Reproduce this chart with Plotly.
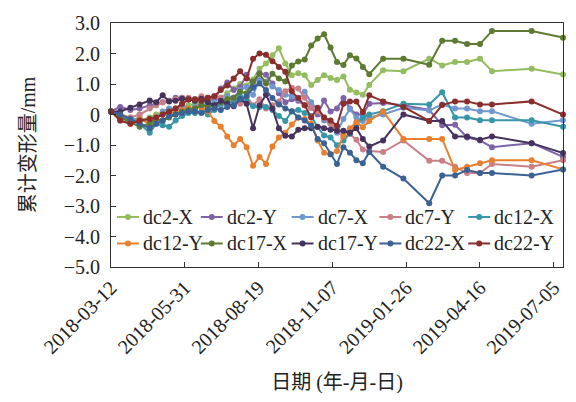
import plotly.graph_objects as go

# Measurement dates (weekly survey, sparser after the new year)
dates = [
    "2018-03-12", "2018-03-22", "2018-04-02", "2018-04-12", "2018-04-23",
    "2018-04-30", "2018-05-07", "2018-05-14", "2018-05-21", "2018-05-28",
    "2018-06-04", "2018-06-11", "2018-06-18", "2018-06-25", "2018-07-02",
    "2018-07-09", "2018-07-16", "2018-07-23", "2018-07-30", "2018-08-06",
    "2018-08-13", "2018-08-20", "2018-08-27", "2018-09-03", "2018-09-10",
    "2018-09-17", "2018-09-24", "2018-10-01", "2018-10-08", "2018-10-15",
    "2018-10-22", "2018-10-29", "2018-11-05", "2018-11-12", "2018-11-19",
    "2018-11-26", "2018-12-03", "2018-12-10", "2018-12-17", "2019-01-01",
    "2019-01-23", "2019-02-20", "2019-03-06", "2019-03-20", "2019-04-02",
    "2019-04-16", "2019-04-29", "2019-06-11", "2019-07-15",
]

# Cumulative deformation (mm) per monitoring point and direction
dc2_x = [0.1, -0.05, -0.1, -0.2, -0.1, 0.0, 0.05, 0.1, 0.2, 0.25,
         0.3, 0.35, 0.4, 0.45, 0.5, 0.55, 0.7, 0.85, 1.0, 0.95,
         1.15, 1.5, 1.67, 1.94, 2.17, 1.67, 1.29, 1.35, 1.29, 0.97,
         1.13, 1.29, 1.2, 1.13, 1.25, 0.81, 0.72, 0.65, 0.97, 1.45,
         1.42, 1.83, 1.61, 1.72, 1.72, 1.83, 1.42, 1.5, 1.31]
dc2_y = [0.1, 0.25, 0.15, 0.2, 0.3, 0.35, 0.4, 0.45, 0.55, 0.55,
         0.5, 0.45, 0.5, 0.55, 0.5, 0.85, 1.05, 0.8, 0.9, 1.3,
         0.95, 1.35, 1.3, 1.02, 0.7, 0.4, 0.5, 0.45, 0.3, 0.22,
         0.0, 0.46, 0.1, 0.2, 0.54, 0.2, 0.0, 0.0, 0.35, 0.38,
         0.3, 0.15, -0.35, -0.34, -0.75, -0.85, -1.07, -0.94, -1.39]
dc7_x = [0.1, 0.0, -0.2, -0.1, -0.3, -0.1, 0.1, 0.2, 0.15, 0.3,
         0.2, 0.25, 0.35, 0.3, 0.4, 0.3, 0.6, 0.55, 0.8, 0.9,
         0.65, 1.13, 1.08, 0.92, 0.8, 0.65, 0.6, 0.5, 0.75, 0.4,
         0.15, -0.2, -0.3, -0.6, -0.15, 0.17, -0.1, -0.21, -0.1, 0.0,
         0.22, 0.13, 0.33, 0.2, 0.2, 0.11, 0.11, -0.3, -0.19]
dc7_y = [0.1, 0.0, -0.1, 0.0, 0.2, 0.3, 0.4, 0.45, 0.5, 0.55,
         0.55, 0.5, 0.6, 0.5, 0.6, 0.55, 0.4, 0.5, 0.35, 0.6,
         0.3, 0.5, 0.2, 0.3, 0.43, 0.76, 0.88, 0.85, 0.55, 0.22,
         0.1, -0.1, -0.3, -0.5, -0.75, -0.64, -0.83, -1.15, -1.2, -1.23,
         -0.85, -1.52, -1.52, -1.71, -1.92, -1.92, -1.62, -1.71, -1.5]
dc12_x = [0.1, -0.1, -0.2, -0.3, -0.6, -0.3, -0.35, -0.4, -0.2, -0.05,
          0.05, 0.05, 0.1, 0.0, 0.15, 0.38, 0.35, 0.45, 0.59, 0.43,
          0.27, 0.24, 0.25, 0.15, -0.05, -0.21, 0.1, 0.15, 0.05, -0.05,
          -0.42, -0.69, -0.75, -1.01, -0.85, -0.62, -0.32, -0.1, 0.0, 0.11,
          0.35, 0.33, 0.73, -0.1, -0.1, -0.19, -0.19, -0.19, -0.4]
dc12_y = [0.1, -0.2, -0.3, -0.15, -0.3, -0.1, 0.0, 0.05, 0.1, 0.15,
          0.2, 0.2, 0.25, 0.11, -0.21, -0.4, -0.72, -1.01, -0.8, -1.07,
          -1.68, -1.39, -1.62, -1.05, -0.75, -0.6, -0.33, -0.1, -0.15, -0.3,
          -0.85, -1.25, -1.3, -1.2, -0.7, -0.45, -0.25, -0.42, -0.21, 0.1,
          -0.8, -0.8, -0.8, -1.82, -1.71, -1.6, -1.5, -1.5, -1.8]
dc17_x = [0.1, -0.1, -0.25, -0.4, -0.3, -0.15, -0.2, -0.1, 0.0, 0.1,
          0.15, 0.2, 0.3, 0.25, 0.3, 0.4, 0.5, 0.55, 0.75, 0.7,
          1.08, 1.34, 1.02, 1.34, 1.18, 1.08, 1.61, 1.74, 1.8, 2.26,
          2.49, 2.63, 2.2, 1.72, 1.62, 1.94, 1.84, 1.56, 1.32, 1.83,
          1.83, 1.63, 2.42, 2.42, 2.31, 2.31, 2.74, 2.74, 2.52]
dc17_y = [0.1, 0.1, 0.22, 0.33, 0.46, 0.4, 0.63, 0.43, 0.45, 0.52,
          0.5, 0.45, 0.52, 0.4, 0.3, 0.45, 0.35, 0.27, 0.5, 0.35,
          -0.45, 0.3, 0.65, 0.2, -0.45, -0.7, -0.72, -0.5, -0.45, -0.45,
          -0.4, -0.45, -0.5, -0.53, -0.53, -0.6, -0.45, -0.8, -1.05, -0.85,
          0.0, -0.21, -0.21, -0.72, -0.72, -0.83, -0.72, -0.94, -1.26]
dc22_x = [0.1, 0.0, -0.15, -0.3, -0.45, -0.3, -0.2, -0.05, 0.0, 0.05,
          0.1, 0.1, 0.05, 0.15, 0.2, 0.15, 0.25, 0.3, 0.5, 0.6,
          0.88, 1.02, 0.8, 0.54, 0.33, 0.2, 0.11, -0.1, -0.2, -0.37,
          -0.8, -0.94, -1.3, -1.62, -1.07, -1.25, -1.5, -1.6, -1.23, -1.71,
          -2.1, -2.91, -2.0, -2.0, -1.82, -1.92, -1.92, -2.0, -1.8]
dc22_y = [0.1, -0.2, -0.3, -0.2, -0.15, -0.1, 0.0, 0.1, 0.2, 0.35,
          0.49, 0.5, 0.45, 0.55, 0.6, 0.8, 0.95, 1.18, 1.42, 1.18,
          1.83, 2.0, 1.96, 1.75, 1.56, 1.4, 0.76, 0.54, 0.3, -0.1,
          0.22, -0.1, -0.2, -0.37, 0.35, 0.43, 0.43, 0.08, 0.63, 0.43,
          0.25, -0.21, 0.31, 0.43, 0.43, 0.33, 0.33, 0.43, 0.0]

series_names = ["dc2-X", "dc2-Y", "dc7-X", "dc7-Y", "dc12-X",
                "dc12-Y", "dc17-X", "dc17-Y", "dc22-X", "dc22-Y"]
series_values = [dc2_x, dc2_y, dc7_x, dc7_y, dc12_x,
                 dc12_y, dc17_x, dc17_y, dc22_x, dc22_y]
series_colors = ["#93BD5E", "#7E63A8", "#7197CF", "#CA7F87", "#3796A8",
                 "#E8802F", "#5C7A31", "#45335E", "#3C6293", "#8A2D2D"]

x_tick_dates = ["2018-03-12", "2018-05-31", "2018-08-19", "2018-11-07",
                "2019-01-26", "2019-04-16", "2019-07-05"]
y_tick_vals = [3, 2, 1, 0, -1, -2, -3, -4, -5]
y_tick_text = ["3.0", "2.0", "1.0", "0", "\u22121.0", "\u22122.0",
               "\u22123.0", "\u22124.0", "\u22125.0"]

FONT = "Liberation Serif, Noto Sans CJK SC, serif"
TEXT = "#222"

# Figure geometry (pixels)
W, H = 576, 402
M_L, M_R, M_T, M_B = 111, 12, 20, 133
PLOT_W = W - M_L - M_R
PLOT_H = H - M_T - M_B

fig = go.Figure()
for name, vals, color in zip(series_names, series_values, series_colors):
    fig.add_trace(go.Scatter(
        x=dates, y=vals, name=name, mode="lines+markers",
        line=dict(color=color, width=2),
        marker=dict(color=color, size=6),
        cliponaxis=False, showlegend=False,
    ))

# In-plot legend: 2 rows x 5 columns, short line + dot, label right after
LEG_COL_PX = [117, 201, 292, 380, 469]
LEG_ROW_PX = [218, 245]
LEG_LINE_LEN = 22
shapes = []
annotations = []
for i, (name, color) in enumerate(zip(series_names, series_colors)):
    row, col = divmod(i, 5)
    x0 = (LEG_COL_PX[col] - M_L) / PLOT_W
    x1 = (LEG_COL_PX[col] + LEG_LINE_LEN - M_L) / PLOT_W
    xm = (x0 + x1) / 2
    yy = (H - M_B - LEG_ROW_PX[row]) / PLOT_H
    shapes.append(dict(type="line", xref="paper", yref="paper",
                       x0=x0, x1=x1, y0=yy, y1=yy,
                       line=dict(color=color, width=2)))
    shapes.append(dict(type="circle", xref="paper", yref="paper",
                       xsizemode="pixel", ysizemode="pixel",
                       xanchor=xm, yanchor=yy, x0=-3, x1=3, y0=-3, y1=3,
                       fillcolor=color, line=dict(color=color, width=0)))
    annotations.append(dict(xref="paper", yref="paper",
                            x=x1 + 2 / PLOT_W, y=yy, xanchor="left",
                            yanchor="middle", showarrow=False, text=name,
                            font=dict(family=FONT, size=20, color=TEXT)))

fig.update_layout(
    width=W, height=H,
    margin=dict(l=M_L, r=M_R, t=M_T, b=M_B),
    paper_bgcolor="white", plot_bgcolor="white",
    font=dict(family=FONT, size=20, color=TEXT),
    showlegend=False,
    shapes=shapes,
    annotations=annotations,
)

fig.update_xaxes(
    type="date",
    range=["2018-03-12", "2019-07-15"],
    tickvals=x_tick_dates, ticktext=x_tick_dates,
    tickangle=-45,
    ticks="inside", ticklen=5, tickcolor="#333",
    showline=True, linecolor="#333", linewidth=1, mirror=True,
    showgrid=False, zeroline=False,
    tickfont=dict(family=FONT, size=20, color=TEXT),
    title=dict(text="日期 (年-月-日)", font=dict(family=FONT, size=20, color=TEXT),
               standoff=18),
)
fig.update_yaxes(
    range=[-5, 3],
    tickvals=y_tick_vals, ticktext=y_tick_text,
    ticks="inside", ticklen=5, tickcolor="#333",
    showline=True, linecolor="#333", linewidth=1, mirror=True,
    showgrid=False, zeroline=False,
    ticklabelstandoff=6,
    tickfont=dict(family=FONT, size=20, color=TEXT),
    title=dict(text="累计变形量/mm", font=dict(family=FONT, size=20, color=TEXT),
               standoff=22),
)

fig.write_html("out.html")
